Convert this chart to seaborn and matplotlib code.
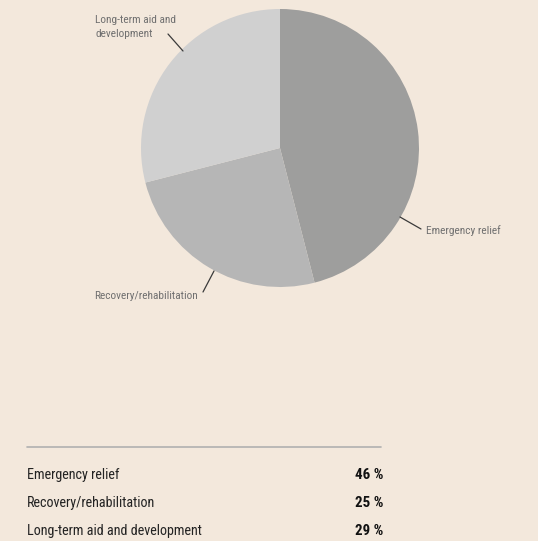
import numpy as np
import matplotlib
matplotlib.use('Agg')
import matplotlib.pyplot as plt
from matplotlib.lines import Line2D
import seaborn as sns

categories = ["Emergency relief", "Recovery/rehabilitation", "Long-term aid and development"]
shares = [46, 25, 29]
pie_labels = ["Emergency relief", "Recovery/rehabilitation", "Long-term aid and\ndevelopment"]

BG = "#f3e8dc"
colors = ["#9e9e9d", "#b6b6b6", "#d0d0d0"]

sns.set_theme(style="white")
plt.rcParams['font.family'] = ['Roboto Condensed', 'DejaVu Sans']

W, H = 538, 541
fig = plt.figure(figsize=(W / 100, H / 100), dpi=100, facecolor=BG)

def fx(px): return px / W
def fy(py): return 1 - py / H

# pie
cx, cy, r = 280, 148, 139
ax = fig.add_axes([fx(cx - r), fy(cy + r), 2 * r / W, 2 * r / H])
ax.set_facecolor(BG)
ax.pie(shares, colors=colors, startangle=90, counterclock=False, radius=1,
       wedgeprops={"linewidth": 0})
ax.set_xlim(-1, 1)
ax.set_ylim(-1, 1)
ax.set_aspect('auto')
ax.axis('off')

lab_color = "#707070"
# leader lines + labels (pixel coords)
leaders = [((400, 217), (421, 229), (426, 231)),
           ((214, 271), (203, 292), (94, 296)),
           ((183, 51), (168, 34), (95, 27))]
for (p0, p1, tp), lab in zip(leaders, pie_labels):
    fig.add_artist(Line2D([fx(p0[0]), fx(p1[0])], [fy(p0[1]), fy(p1[1])],
                          color="#3a3a3a", lw=0.9))
    fig.text(fx(tp[0]), fy(tp[1]), lab, ha="left", va="center", fontsize=8.2,
             color=lab_color, linespacing=1.5)

# table
fig.add_artist(Line2D([fx(27), fx(381)], [fy(447), fy(447)], color="#b0b0b0", lw=1.2))
row_y = [475, 503, 531]
for name, val, y in zip(categories, shares, row_y):
    fig.text(fx(27), fy(y), name, ha="left", va="center", fontsize=10.2, color="#222222")
    fig.text(fx(383), fy(y), f"{val} %", ha="right", va="center", fontsize=10.8,
             color="#111111", fontweight="bold")

fig.savefig("out.png", dpi=100, facecolor=BG)
